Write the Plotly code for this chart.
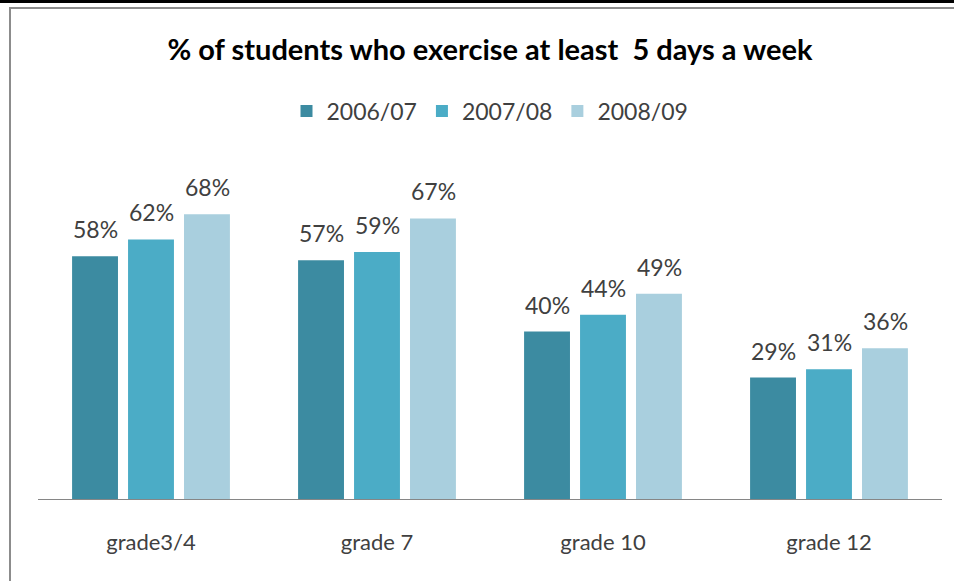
import plotly.graph_objects as go

# data
grades = ["grade3/4", "grade 7", "grade 10", "grade 12"]
years = ["2006/07", "2007/08", "2008/09"]
pct_0607 = [58, 57, 40, 29]
pct_0708 = [62, 59, 44, 31]
pct_0809 = [68, 67, 49, 36]

colors = ["#3c8ba1", "#4bacc6", "#a9cfde"]
series = [pct_0607, pct_0708, pct_0809]

W, H = 954, 581
L, R, T, B = 38, 12, 164, 82
pw, ph = W - L - R, H - T - B
slot = 56  # px between neighbouring bars in a group


def px_x(x):
    return (x - L) / pw


def px_y(y):
    return (H - B - y) / ph


font = "Lato, 'Open Sans', sans-serif"

fig = go.Figure()
for i, (name, vals, col) in enumerate(zip(years, series, colors)):
    fig.add_trace(go.Bar(
        x=grades, y=vals, name=name,
        marker=dict(color=col, line=dict(width=0)),
    ))
    # value labels sit a little higher above the bars than plotly's own text
    for g, v in zip(grades, vals):
        fig.add_annotation(x=g, y=v, text=f"{v}%", showarrow=False,
                           xshift=(i - 1) * slot, yshift=11, yanchor="bottom",
                           font=dict(size=23, color="#404040", family=font))

fig.update_layout(
    width=W, height=H,
    margin=dict(l=L, r=R, t=T, b=B),
    paper_bgcolor="white", plot_bgcolor="white",
    font=dict(family=font, color="#404040"),
    barmode="group", bargap=0.257, bargroupgap=0.18,
    title=dict(text="<b>% of students who exercise at least\u00a0 5 days a week</b>",
               x=0.5, xref="paper", xanchor="center",
               y=1 - 50 / H, yanchor="middle",
               font=dict(size=29, color="black", family=font)),
    legend=dict(orientation="h", x=0.5, xanchor="center",
                y=px_y(111), yanchor="middle",
                font=dict(size=23, color="#404040"),
                itemwidth=30, tracegroupgap=0),
    xaxis=dict(showline=True, linecolor="#868686", linewidth=1,
               ticks="", ticklabelstandoff=24,
               tickfont=dict(size=22, color="#404040"), showgrid=False),
    yaxis=dict(range=[0, 80], visible=False, showgrid=False),
    showlegend=True,
)

# frame lines around the picture
fig.add_shape(type="line", xref="paper", yref="paper",
              x0=px_x(0), x1=px_x(W), y0=px_y(1.5), y1=px_y(1.5),
              line=dict(color="black", width=3))
fig.add_shape(type="line", xref="paper", yref="paper",
              x0=px_x(9), x1=px_x(W), y0=px_y(8), y1=px_y(8),
              line=dict(color="#8c8c8c", width=2))
fig.add_shape(type="line", xref="paper", yref="paper",
              x0=px_x(10), x1=px_x(10), y0=px_y(8), y1=px_y(H),
              line=dict(color="#8c8c8c", width=2))

# drop the default page margin so the figure sits at the window corner
fig.write_html("out.html", config={"displayModeBar": False},
               post_script="document.body.style.margin='0';")
